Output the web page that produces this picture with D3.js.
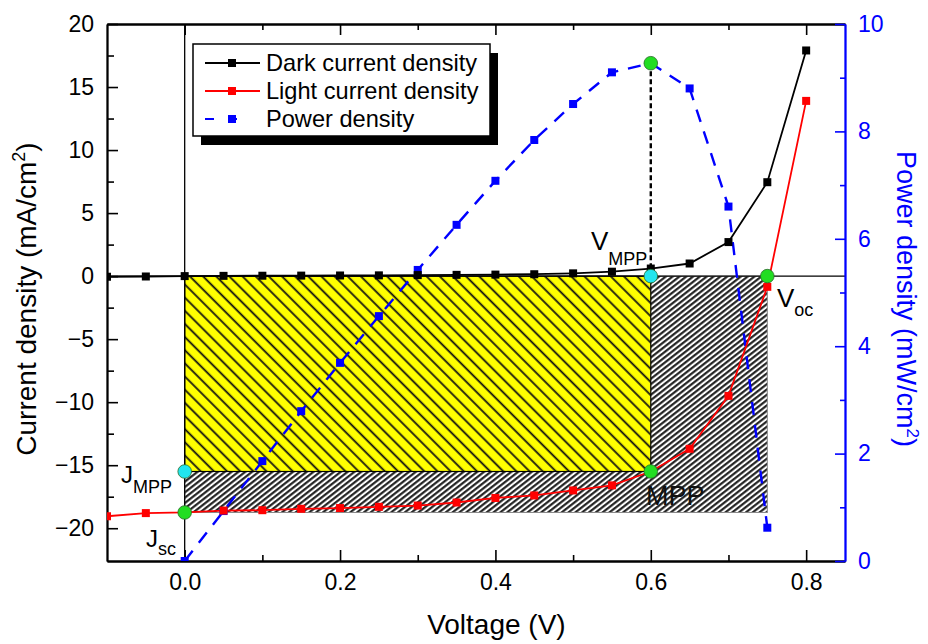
<!DOCTYPE html>
<html><head><meta charset="utf-8">
<script src="https://cdn.jsdelivr.net/npm/d3@7"></script>
<style>body{margin:0;background:#fff}svg{display:block}text{font-family:"Liberation Sans",Arial,sans-serif}</style>
</head><body>
<svg id="c" width="928" height="644"></svg>
<script>
// ---- data ----
const voltage = [-0.1,-0.05,0,0.05,0.1,0.15,0.2,0.25,0.3,0.35,0.4,0.45,0.5,0.55,0.6,0.65,0.7,0.75,0.8];
const darkJ   = [-0.05,-0.03,0,0.02,0.03,0.04,0.05,0.06,0.08,0.1,0.12,0.15,0.22,0.35,0.6,1.0,2.7,7.45,17.9];
const lightJ  = [-19.05,-18.8,-18.75,-18.6,-18.57,-18.46,-18.4,-18.3,-18.2,-17.96,-17.6,-17.4,-17.0,-16.6,-15.5,-13.7,-9.5,-0.85,13.9];
const powerV  = [0,0.05,0.1,0.15,0.2,0.25,0.3,0.35,0.4,0.45,0.5,0.55,0.6,0.65,0.7,0.75];
const powerP  = [0,0.93,1.86,2.79,3.69,4.56,5.42,6.26,7.08,7.84,8.51,9.1,9.27,8.8,6.6,0.62];
const vMPP = 0.6, jMPP = -15.5, pMax = 9.27, vOC = 0.75, jSC = -18.75;
const xTicks = [0,0.2,0.4,0.6,0.8];
const xMinor = [0.1,0.3,0.5,0.7];
const yTicks = [-20,-15,-10,-5,0,5,10,15,20];
const yMinor = [-17.5,-12.5,-7.5,-2.5,2.5,7.5,12.5,17.5];
const pTicks = [0,2,4,6,8,10];
const pMinor = [1,3,5,7,9];
const legendItems = ["Dark current density","Light current density","Power density"];
const legendColors = ["#000","#ff0000","#0000ff"];

const svg = d3.select("#c");
const L=107,R=845,T=24,B=561;
const x = d3.scaleLinear().domain([-0.1,0.85]).range([L,R]);
const y = d3.scaleLinear().domain([-22.6,20]).range([B,T]);
const yp = d3.scaleLinear().domain([0,10]).range([B,T]);

const defs = svg.append("defs");
defs.append("clipPath").attr("id","clip").append("rect").attr("x",L).attr("y",T).attr("width",R-L).attr("height",B-T);
const py = defs.append("pattern").attr("id","hy").attr("patternUnits","userSpaceOnUse")
  .attr("width",9.3).attr("height",20).attr("patternTransform","rotate(-45)");
py.append("rect").attr("width",9.3).attr("height",20).attr("fill","#ffff00");
py.append("line").attr("x1",4).attr("x2",4).attr("y1",0).attr("y2",20).attr("stroke","#111").attr("stroke-width",1.8);
const pg = defs.append("pattern").attr("id","hg").attr("patternUnits","userSpaceOnUse")
  .attr("width",4.2).attr("height",20).attr("patternTransform","rotate(52)");
pg.append("rect").attr("width",4.2).attr("height",20).attr("fill","#fff");
pg.append("line").attr("x1",2).attr("x2",2).attr("y1",0).attr("y2",20).attr("stroke","#1a1a1a").attr("stroke-width",2.1);

// hatched regions
svg.append("rect").attr("x",x(0)).attr("y",y(0)).attr("width",x(vOC)-x(0)).attr("height",y(jSC)-y(0))
  .attr("fill","url(#hg)").attr("stroke","#888").attr("stroke-width",1);
svg.append("rect").attr("x",x(0)).attr("y",y(0)).attr("width",x(vMPP)-x(0)).attr("height",y(jMPP)-y(0))
  .attr("fill","url(#hy)").attr("stroke","#000").attr("stroke-width",1.2);

// zero lines
svg.append("line").attr("x1",L).attr("x2",R).attr("y1",y(0)).attr("y2",y(0)).attr("stroke","#000").attr("stroke-width",1.3);
svg.append("line").attr("x1",x(0)).attr("x2",x(0)).attr("y1",T).attr("y2",B).attr("stroke","#000").attr("stroke-width",1.3);

// axes
function styleAxis(g,color){g.selectAll("path").attr("stroke",color).attr("stroke-width",1.8);
  g.selectAll("line").attr("stroke",color).attr("stroke-width",1.6);
  g.selectAll("text").attr("fill",color).style("font-size","23px").style("font-family",'"Liberation Sans",Arial,sans-serif');}
const gB = svg.append("g").attr("transform",`translate(0,${B})`).call(d3.axisBottom(x).tickValues(xTicks).tickSize(-11).tickSizeOuter(0).tickPadding(13).tickFormat(d3.format(".1f")));
styleAxis(gB,"#000");
const gBm = svg.append("g").attr("transform",`translate(0,${B})`).call(d3.axisBottom(x).tickValues(xMinor).tickSize(-6).tickSizeOuter(0).tickFormat(""));
styleAxis(gBm,"#000");
const gT = svg.append("g").attr("transform",`translate(0,${T})`).call(d3.axisTop(x).tickValues(xTicks).tickSize(-11).tickSizeOuter(0).tickFormat(""));
styleAxis(gT,"#000");
const gTm = svg.append("g").attr("transform",`translate(0,${T})`).call(d3.axisTop(x).tickValues(xMinor).tickSize(-6).tickSizeOuter(0).tickFormat(""));
styleAxis(gTm,"#000");
const gL = svg.append("g").attr("transform",`translate(${L},0)`).call(d3.axisLeft(y).tickValues(yTicks).tickSize(-11).tickSizeOuter(0).tickPadding(13).tickFormat(d3.format("d")));
styleAxis(gL,"#000");
const gLm = svg.append("g").attr("transform",`translate(${L},0)`).call(d3.axisLeft(y).tickValues(yMinor).tickSize(-7).tickSizeOuter(0).tickFormat(""));
styleAxis(gLm,"#000");
const gR = svg.append("g").attr("transform",`translate(${R},0)`).call(d3.axisRight(yp).tickValues(pTicks).tickSize(-10).tickSizeOuter(0).tickPadding(13).tickFormat(d3.format("d")));
styleAxis(gR,"#0000ff");
const gRm = svg.append("g").attr("transform",`translate(${R},0)`).call(d3.axisRight(yp).tickValues(pMinor).tickSize(-5).tickSizeOuter(0).tickFormat(""));
styleAxis(gRm,"#0000ff");

const plot = svg.append("g").attr("clip-path","url(#clip)");

// MPP dashed vertical
plot.append("line").attr("x1",x(vMPP)).attr("x2",x(vMPP)).attr("y1",yp(pMax)).attr("y2",y(0))
  .attr("stroke","#000").attr("stroke-width",2.4).attr("stroke-dasharray","5,3");

// series
const darkData = voltage.map((v,i)=>[v,darkJ[i]]);
const lightData = voltage.map((v,i)=>[v,lightJ[i]]);
const powerData = powerV.map((v,i)=>[v,powerP[i]]);
const lineJ = d3.line().x(d=>x(d[0])).y(d=>y(d[1]));
const lineP = d3.line().x(d=>x(d[0])).y(d=>yp(d[1]));
plot.append("path").datum(powerData).attr("d",lineP).attr("fill","none").attr("stroke","#0000ff").attr("stroke-width",2.4).attr("stroke-dasharray","13,10");
plot.append("path").datum(darkData).attr("d",lineJ).attr("fill","none").attr("stroke","#000").attr("stroke-width",1.8);
plot.append("path").datum(lightData).attr("d",lineJ).attr("fill","none").attr("stroke","#ff0000").attr("stroke-width",1.8);
const ms=8;
plot.selectAll(".pm").data(powerData).join("rect").attr("x",d=>x(d[0])-ms/2).attr("y",d=>yp(d[1])-ms/2).attr("width",ms).attr("height",ms).attr("fill","#0000ff");
plot.selectAll(".dm").data(darkData).join("rect").attr("x",d=>x(d[0])-ms/2).attr("y",d=>y(d[1])-ms/2).attr("width",ms).attr("height",ms).attr("fill","#000");
plot.selectAll(".lm").data(lightData).join("rect").attr("x",d=>x(d[0])-ms/2).attr("y",d=>y(d[1])-ms/2).attr("width",ms).attr("height",ms).attr("fill","#ff0000");

// key points
const pts = [
  {cx:x(vMPP),cy:yp(pMax),c:"#22dd22"},
  {cx:x(vMPP),cy:y(0),c:"#22e5ee"},
  {cx:x(vOC),cy:y(0),c:"#22dd22"},
  {cx:x(vMPP),cy:y(jMPP),c:"#22dd22"},
  {cx:x(0),cy:y(jMPP),c:"#22e5ee"},
  {cx:x(0),cy:y(jSC),c:"#22dd22"}];
svg.selectAll(".kp").data(pts).join("circle").attr("cx",d=>d.cx).attr("cy",d=>d.cy).attr("r",6.8)
  .attr("fill",d=>d.c).attr("stroke","#2a6a2a").attr("stroke-width",0.8);

// annotation labels
function sub(xx,yy,main,s,fs,ss,dy){
  const t=svg.append("text").attr("x",xx).attr("y",yy).attr("fill","#000").style("font-size",fs+"px");
  t.append("tspan").text(main);
  t.append("tspan").attr("dy",dy).style("font-size",ss+"px").text(s);
}
sub(591,250,"V","MPP",26,18,15);
sub(777,307,"V","oc",26,18,9);
sub(121,483,"J","MPP",24,18,10);
sub(146,547,"J","sc",24,18,8);
svg.append("text").attr("x",646).attr("y",505).style("font-size","27px").attr("fill","#111").text("MPP");

// axis titles
const tl = svg.append("text").attr("transform","translate(36,299) rotate(-90)").attr("text-anchor","middle").style("font-size","28px").attr("fill","#000");
tl.append("tspan").text("Current density (mA/cm");
tl.append("tspan").attr("dy",-11).style("font-size","18px").text("2");
tl.append("tspan").attr("dy",11).text(")");
const tr = svg.append("text").attr("transform","translate(897,299) rotate(90)").attr("text-anchor","middle").style("font-size","27px").attr("fill","#0000ff");
tr.append("tspan").text("Power density (mW/cm");
tr.append("tspan").attr("dy",-10).style("font-size","17px").text("2");
tr.append("tspan").attr("dy",10).text(")");
svg.append("text").attr("x",x(0.4)+1).attr("y",634).attr("text-anchor","middle").style("font-size","28px").attr("fill","#000").text("Voltage (V)");

// legend
const lg = svg.append("g");
lg.append("rect").attr("x",201).attr("y",53).attr("width",297).attr("height",92).attr("fill","#000");
lg.append("rect").attr("x",193).attr("y",44).attr("width",297).attr("height",92).attr("fill","#fff").attr("stroke","#000").attr("stroke-width",1.5);
legendItems.forEach((name,i)=>{
  const cy = 63 + i*28;
  const ln = lg.append("line").attr("x1",205).attr("x2",260).attr("y1",cy).attr("y2",cy).attr("stroke",legendColors[i]).attr("stroke-width",2);
  if(i===2) ln.attr("x1",205).attr("x2",250).attr("stroke-dasharray","9,14");
  lg.append("rect").attr("x",232-ms/2).attr("y",cy-ms/2).attr("width",ms).attr("height",ms).attr("fill",legendColors[i]);
  lg.append("text").attr("x",266).attr("y",cy+8).style("font-size","23.6px").attr("fill","#000").text(name);
});
</script>
</body></html>
